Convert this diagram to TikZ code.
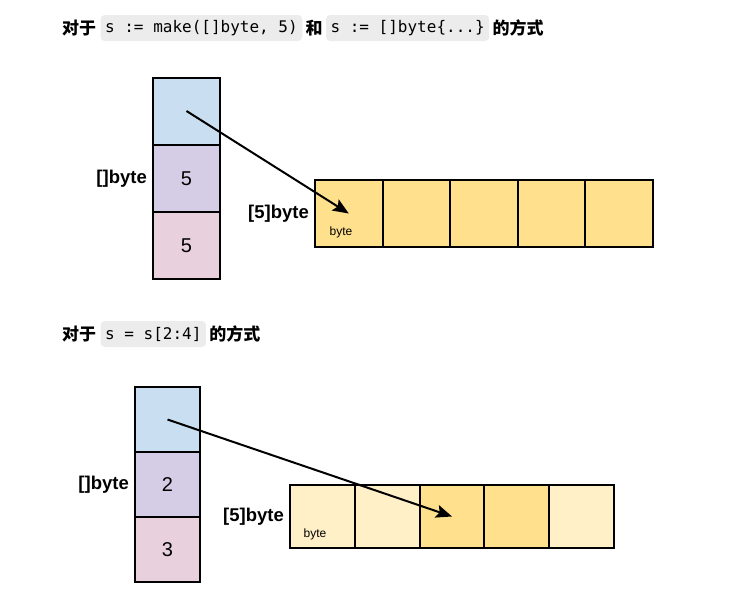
\documentclass[tikz,border=0pt]{standalone}
\usepackage{fontspec}
\usepackage{tikz}
\usepackage{xcolor}
\usetikzlibrary{positioning,arrows.meta}
\setmainfont{Liberation Sans}
\newfontfamily\cjk{Noto Sans CJK SC}
\newfontfamily\codefont{DejaVu Sans Mono}
\definecolor{ptrblue}{RGB}{201,222,240}
\definecolor{lenpurple}{RGB}{213,205,230}
\definecolor{cappink}{RGB}{232,208,220}
\definecolor{byteyellow}{RGB}{255,224,140}
\definecolor{bytelight}{RGB}{255,240,200}
\definecolor{codegray}{RGB}{236,236,236}

\tikzset{
    zh/.style={inner sep=0pt, font=\cjk\bfseries\fontsize{17}{19}\selectfont},
    code/.style={fill=codegray, rounded corners=4pt, inner xsep=4.5pt, inner ysep=0pt,
        minimum height=26pt, font=\codefont\fontsize{16}{18}\selectfont},
    cell/.style={draw, line width=2pt, inner sep=0pt, font=\fontsize{20}{22}\selectfont},
    lbl/.style={font=\bfseries\fontsize{18.5}{21}\selectfont, inner sep=0pt},
    small/.style={font=\fontsize{12}{14}\selectfont, inner sep=0pt},
    ptr/.style={-{Stealth[length=16pt, width=13pt, inset=3pt]}, line width=2pt}
}

\begin{document}
\begin{tikzpicture}[x=1pt, y=-1pt]
    \useasboundingbox (0,0) rectangle (734,614);

    % first case
    \node[zh, anchor=west] (ta1) at (62,28) {对于};
    \node[code, right=4pt of ta1] (ta2) {s := make([]byte, 5)};
    \node[zh, right=3pt of ta2] (ta3) {和};
    \node[code, right=3pt of ta3] (ta4) {s := []byte\{...\}};
    \node[zh, right=3pt of ta4] (ta5) {的方式};

    \node[cell, fill=ptrblue, minimum width=67pt, minimum height=67pt] (ptr1) at (186.5,111) {};
    \node[cell, fill=lenpurple, minimum width=67pt, minimum height=67pt] (len1) at (186.5,178.5) {5};
    \node[cell, fill=cappink, minimum width=67pt, minimum height=67pt] (cap1) at (186.5,245.5) {5};
    \node[lbl, left=5pt of len1] (sl1) {[]byte};

    \node[cell, fill=byteyellow, minimum width=67.6pt, minimum height=67pt] (aa1) at (348.8,213.5) {};
    \node[cell, fill=byteyellow, minimum width=67.6pt, minimum height=67pt] (aa2) at (416.4,213.5) {};
    \node[cell, fill=byteyellow, minimum width=67.6pt, minimum height=67pt] (aa3) at (484,213.5) {};
    \node[cell, fill=byteyellow, minimum width=67.6pt, minimum height=67pt] (aa4) at (551.6,213.5) {};
    \node[cell, fill=byteyellow, minimum width=67.6pt, minimum height=67pt] (aa5) at (619.2,213.5) {};
    \node[lbl, left=5pt of aa1] (al1) {[5]byte};
    \node[small] (bt1) at (341,232) {byte};

    \draw[ptr] (ptr1.center) -- (aa1.center);

    % second case
    \node[zh, anchor=west] (tb1) at (62,334) {对于};
    \node[code, right=4pt of tb1] (tb2) {s = s[2:4]};
    \node[zh, right=3pt of tb2] (tb3) {的方式};

    \node[cell, fill=ptrblue, minimum width=65pt, minimum height=65pt] (ptr2) at (167.5,419.5) {};
    \node[cell, fill=lenpurple, minimum width=65pt, minimum height=65pt] (len2) at (167.5,484.5) {2};
    \node[cell, fill=cappink, minimum width=65pt, minimum height=65pt] (cap2) at (167.5,549.5) {3};
    \node[lbl, left=5pt of len2] (sl2) {[]byte};

    \node[cell, fill=bytelight, minimum width=64.8pt, minimum height=63pt] (ab1) at (322.4,516.5) {};
    \node[cell, fill=bytelight, minimum width=64.8pt, minimum height=63pt] (ab2) at (387.2,516.5) {};
    \node[cell, fill=byteyellow, minimum width=64.8pt, minimum height=63pt] (ab3) at (452,516.5) {};
    \node[cell, fill=byteyellow, minimum width=64.8pt, minimum height=63pt] (ab4) at (516.8,516.5) {};
    \node[cell, fill=bytelight, minimum width=64.8pt, minimum height=63pt] (ab5) at (581.6,516.5) {};
    \node[lbl, left=5pt of ab1] (al2) {[5]byte};
    \node[small] (bt2) at (315,534) {byte};

    \draw[ptr] (ptr2.center) -- (ab3.center);
\end{tikzpicture}
\end{document}
